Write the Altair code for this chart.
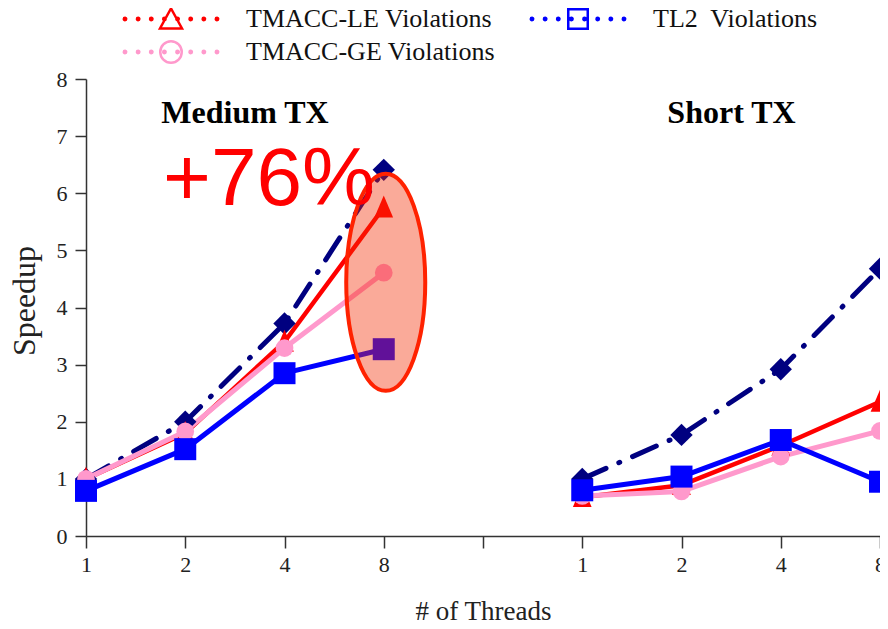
import json
import altair as alt
import pandas as pd

# ---------------- data ----------------
thread_labels = ["1", "2", "4", "8"]
panels = ["Medium TX", "Short TX"]
panel_offsets = [0, 5]
axis_tick_labels = ["1", "2", "4", "8", "", "1", "2", "4", "8"]

series_names = ["Ideal", "TMACC-LE Violations", "TMACC-GE Violations", "TL2 Violations"]
medium_ideal = [1.0, 2.0, 3.72, 6.41]
medium_le = [1.0, 1.8, 3.4, 5.75]
medium_ge = [1.0, 1.83, 3.29, 4.61]
medium_tl2 = [0.79, 1.52, 2.85, 3.27]
short_ideal = [1.0, 1.77, 2.92, 4.68]
short_le = [0.68, 0.89, 1.58, 2.35]
short_ge = [0.7, 0.78, 1.39, 1.84]
short_tl2 = [0.8, 1.04, 1.68, 0.95]

# legend entries (filled column by column: LE, GE | TL2)
legend_names = ["TMACC-LE Violations", "TMACC-GE Violations", "TL2\u00a0 Violations"]

title_x = [1.602, 6.504]
title_y = [7.225, 7.225]
note_text = ["+76%"]
note_x = [0.776]
note_y = [5.794]
highlight_x = [3.02]
highlight_y = [4.44]

# ---------------- tables ----------------
values = {
    ("Medium TX", "Ideal"): medium_ideal,
    ("Medium TX", "TMACC-LE Violations"): medium_le,
    ("Medium TX", "TMACC-GE Violations"): medium_ge,
    ("Medium TX", "TL2 Violations"): medium_tl2,
    ("Short TX", "Ideal"): short_ideal,
    ("Short TX", "TMACC-LE Violations"): short_le,
    ("Short TX", "TMACC-GE Violations"): short_ge,
    ("Short TX", "TL2 Violations"): short_tl2,
}
rows = []
for p, off in zip(panels, panel_offsets):
    for s in series_names:
        for i, t in enumerate(thread_labels):
            rows.append({"panel": p, "series": s, "threads": t,
                         "x": off + i, "y": values[(p, s)][i]})
df = pd.DataFrame(rows)

titles_df = pd.DataFrame({"text": panels, "x": title_x, "y": title_y})
note_df = pd.DataFrame({"text": note_text, "x": note_x, "y": note_y})
hl_df = pd.DataFrame({"x": highlight_x, "y": highlight_y})
legend_df = pd.DataFrame({"series": legend_names})

# ---------------- styles ----------------
colors = {"Ideal": "#000080", "TMACC-LE Violations": "#FF0000",
          "TMACC-GE Violations": "#FF99CC", "TL2 Violations": "#0000FF"}
widths = {"Ideal": 5, "TMACC-LE Violations": 4.5,
          "TMACC-GE Violations": 5, "TL2 Violations": 5}
tri_path = "M0,-1.1 L-0.85,0.9 L0.85,0.9 Z"
shapes = {"Ideal": ("diamond", 500), "TMACC-LE Violations": (tri_path, 484),
          "TMACC-GE Violations": ("circle", 314), "TL2 Violations": ("square", 484)}

S = 48.0  # px per path unit in legend symbols


def dots_path(n=8, span=46.0):
    r = 1.2 / S
    parts = []
    for k in range(n):
        cx = (-span + k * 2 * span / (n - 1)) / S
        parts.append(f"M {cx - r:.4f} 0 A {r:.4f} {r:.4f} 0 1 0 {cx + r:.4f} 0 "
                     f"A {r:.4f} {r:.4f} 0 1 0 {cx - r:.4f} 0 Z ")
    return "".join(parts)


def u(v):
    return f"{v / S:.4f}"


leg_tri = f"M 0 {u(-10.5)} L {u(-11)} {u(9.5)} L {u(11)} {u(9.5)} Z"
cr = 10.75
leg_circle = f"M {u(-cr)} 0 A {u(cr)} {u(cr)} 0 1 0 {u(cr)} 0 A {u(cr)} {u(cr)} 0 1 0 {u(-cr)} 0 Z"
sq = 9.75
leg_square = f"M {u(-sq)} {u(-sq)} H {u(sq)} V {u(sq)} H {u(-sq)} Z"
legend_paths = [dots_path() + leg_tri, dots_path() + leg_circle, dots_path() + leg_square]
legend_colors = ["#FF0000", "#FF99CC", "#0000FF"]

ell_rx, ell_ry = 39.5, 108.5
ell_path = (f"M {-ell_rx / ell_ry:.4f} 0 A {ell_rx / ell_ry:.4f} 1 0 1 1 {ell_rx / ell_ry:.4f} 0 "
            f"A {ell_rx / ell_ry:.4f} 1 0 1 1 {-ell_rx / ell_ry:.4f} 0 Z")

FONT = "Liberation Serif"

x_enc = alt.X("x:Q", scale=alt.Scale(domain=[0, 8], nice=False, zero=False),
              axis=alt.Axis(values=list(range(9)),
                            labelExpr=json.dumps(axis_tick_labels) + "[datum.value]",
                            grid=False, tickSize=12, tickWidth=1.5, tickColor="#333333",
                            domainColor="#333333", domainWidth=1.5,
                            labelFont=FONT, labelFontSize=22, labelColor="#222222",
                            labelPadding=6, labelFlush=False, labelOverlap=False,
                            title="# of Threads", titleFont=FONT, titleFontSize=27,
                            titleFontWeight="normal", titleColor="#222222",
                            titleX=397, titleY=83, titleBaseline="alphabetic",
                            titleAlign="center"))
y_enc = alt.Y("y:Q", scale=alt.Scale(domain=[0, 8], nice=False, zero=False),
              axis=alt.Axis(values=list(range(9)), format="d", grid=False, tickSize=11,
                            tickWidth=1.5, tickColor="#333333", domainColor="#333333",
                            domainWidth=1.5, labelFont=FONT, labelFontSize=22,
                            labelColor="#222222", labelPadding=8, labelFlush=False,
                            title="Speedup", titleFont=FONT, titleFontSize=32,
                            titleFontWeight="normal", titleColor="#222222",
                            titleAngle=270, titleX=-52, titleY=221.5,
                            titleBaseline="alphabetic", titleAlign="center"))

base = alt.Chart(df)
layers = []
for s in series_names:
    kw = dict(color=colors[s], strokeWidth=widths[s], strokeCap="round", strokeJoin="round")
    if s == "Ideal":
        kw["strokeDash"] = [26, 14, 1, 14]
    layers.append(base.transform_filter(alt.datum.series == s)
                  .mark_line(**kw).encode(x=x_enc, y=y_enc, detail="panel:N"))
for s in series_names:
    shp, sz = shapes[s]
    layers.append(base.transform_filter(alt.datum.series == s)
                  .mark_point(filled=True, opacity=1, color=colors[s], shape=shp, size=sz)
                  .encode(x="x:Q", y="y:Q"))

ellipse = alt.Chart(hl_df).mark_point(
    shape=ell_path, size=(2 * ell_ry) ** 2, filled=True, fill="#F22A00", fillOpacity=0.4,
    stroke="#FF2200", strokeWidth=4, strokeOpacity=1, opacity=1
).encode(x="x:Q", y="y:Q")

note = alt.Chart(note_df).mark_text(
    font="Liberation Sans", fontSize=82, color="#FF0000", align="left", baseline="alphabetic"
).encode(x="x:Q", y="y:Q", text="text:N")

titles = alt.Chart(titles_df).mark_text(
    font=FONT, fontSize=32, fontWeight="bold", color="#000000", align="center",
    baseline="alphabetic"
).encode(x="x:Q", y="y:Q", text="text:N")

leg = alt.Legend(orient="none", legendX=35.5, legendY=-75, columns=2, columnPadding=33,
                 rowPadding=3, clipHeight=30, symbolSize=9216, symbolStrokeWidth=2.5,
                 labelFont=FONT, labelFontSize=26, labelColor="#111111", labelOffset=25.5,
                 labelLimit=400, padding=0, title=None, symbolOpacity=1)
legend_layer = alt.Chart(legend_df).transform_filter("false").mark_point(
    filled=False, opacity=1, strokeWidth=2.5, size=9216
).encode(
    color=alt.Color("series:N", scale=alt.Scale(domain=legend_names, range=legend_colors),
                    legend=leg),
    shape=alt.Shape("series:N", scale=alt.Scale(domain=legend_names, range=legend_paths),
                    legend=leg),
)

chart = alt.layer(*layers, ellipse, note, titles, legend_layer).properties(
    width=794, height=457,
    autosize=alt.AutoSizeParams(type="none"),
    padding={"left": 78, "top": 71, "right": 0, "bottom": 85},
).configure(background="white").configure_view(strokeWidth=0)

chart.save("out.html", embed_options={"renderer": "svg", "actions": False})
